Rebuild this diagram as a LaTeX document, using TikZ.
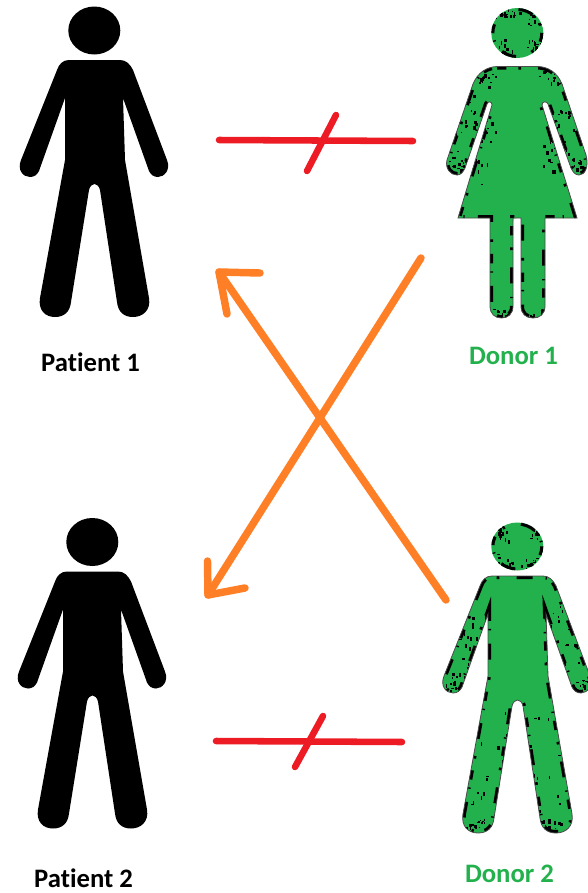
\documentclass[tikz,border=0pt]{standalone}
\usepackage{fontspec}
\setmainfont[Ligatures=CommonOff]{Carlito}
\definecolor{rd}{HTML}{ED1C24}
\definecolor{og}{HTML}{FF7F27}
\definecolor{gr}{HTML}{22B14C}
\newcommand{\manpath}{
 (57,70) .. controls (59,64) and (63,60) .. (69,60) -- (120,60)
 .. controls (126,60) and (130,64) .. (133,70)
 -- (167,160) .. controls (171,170) and (164,177) .. (158,177)
 .. controls (154,177) and (151,175) .. (149,171)
 -- (123,98) -- (125,160) -- (149,298)
 .. controls (151,310) and (143,317) .. (133,317)
 .. controls (124,317) and (118,312) .. (117,302)
 -- (100,190) .. controls (98,182) and (91,182) .. (89,190)
 -- (71,302) .. controls (70,312) and (64,317) .. (55,317)
 .. controls (45,317) and (38,310) .. (40,298)
 -- (65,160) -- (65,98) -- (39,171)
 .. controls (37,175) and (34,177) .. (30,177)
 .. controls (23,177) and (17,170) .. (21,160)
 -- cycle}
\newcommand{\womanpath}{
 (497,66.5) -- (538,66.5) .. controls (548,67) and (557,72) .. (562,84)
 -- (586,155) .. controls (589,167) and (585,175) .. (579,175)
 .. controls (575,175) and (573,172) .. (571,168)
 -- (548,104) .. controls (547,101) and (542,101) .. (542,105)
 -- (577,218) -- (545,218) -- (545,306)
 .. controls (545,314) and (540,318) .. (533,318)
 .. controls (526,318) and (521,314) .. (521,306)
 -- (521,218) -- (513,218) -- (513,306)
 .. controls (513,314) and (508,318) .. (501.5,318)
 .. controls (495,318) and (490,314) .. (490,306)
 -- (490,218) -- (458,218) -- (492,105)
 .. controls (492,101) and (488,101) .. (487,104)
 -- (465,168) .. controls (463,172) and (461,175) .. (457,175)
 .. controls (450,175) and (445,168) .. (447,160)
 -- (473,84) .. controls (478,72) and (487,67) .. (497,66.5) -- cycle}
% black flecks scattered along a list of edge segments (clipped by the caller)
\newcommand{\flecks}[1]{%
 \foreach \ax/\ay/\bx/\by in {#1}{%
  \foreach \k in {1,...,16}{%
   \pgfmathsetmacro{\fx}{\ax+rnd*(\bx-\ax)+rand*5}%
   \pgfmathsetmacro{\fy}{\ay+rnd*(\by-\ay)+rand*5}%
   \pgfmathsetmacro{\fw}{0.8+rnd*2.4}%
   \pgfmathsetmacro{\fh}{0.8+rnd*3.2}%
   \fill[black] (\fx,\fy) rectangle ++(\fw,\fh);%
  }%
 }%
}
\tikzset{
 x=0.75pt,y=-0.75pt,
 lbl/.style={font=\bfseries\fontsize{20}{22}\selectfont,inner sep=0pt,anchor=center},
 redln/.style={draw=rd,line width=4.9pt,line cap=round},
 orln/.style={draw=og,line width=5.6pt,line cap=round,line join=round},
 speck/.style={draw=black,line width=4.5pt,dash pattern=on 7pt off 9pt on 2pt off 13pt on 12pt off 10pt on 1pt off 6pt},
}
\pgfmathsetseed{7}
\begin{document}
\begin{tikzpicture}
\useasboundingbox (0,0) rectangle (587,893);
% Patient 1
\fill[black] (94.3,30.5) ellipse [x radius=26,y radius=24];
\fill[black] \manpath;
\node[lbl,text=black] (p1) at (90.5,362) {Patient 1};
% Patient 2
\begin{scope}[shift={(-2,511.5)}]
 \fill[black] (94.3,30.5) ellipse [x radius=26,y radius=24];
 \fill[black] \manpath;
\end{scope}
\node[lbl,text=black] (p2) at (83.5,878) {Patient 2};
% Donor 1
\fill[gr] (517.3,33) ellipse [x radius=26,y radius=25];
\begin{scope}
 \clip (517.3,33) ellipse [x radius=26,y radius=25];
 \draw[speck] (517.3,33) ellipse [x radius=26,y radius=25];
 \flecks{497/15/515/9, 530/10/541/28, 495/42/510/55, 530/52/541/40}
\end{scope}
\fill[gr] \womanpath;
\begin{scope}
 \clip \womanpath;
 \draw[speck] \womanpath;
 \flecks{473/84/495/70, 540/70/562/84, 473/84/447/160, 562/84/586/155,
  487/104/465/168, 548/104/571/168, 492/105/470/180, 542/105/565/180,
  447/162/465/174, 571/168/586/160, 492/314/512/314, 522/314/544/314}
\end{scope}
\draw[black!70,line width=0.6pt] \womanpath;
\node[lbl,text=gr] (d1) at (513.5,356) {Donor 1};
% Donor 2
\begin{scope}[shift={(423,516)}]
 \fill[gr] (94.3,30.5) ellipse [x radius=26,y radius=24];
 \begin{scope}
  \clip (94.3,30.5) ellipse [x radius=26,y radius=24];
  \draw[speck] (94.3,30.5) ellipse [x radius=26,y radius=24];
  \flecks{72/20/85/9, 105/9/117/22, 72/40/90/52, 100/52/118/42}
 \end{scope}
 \fill[gr] \manpath;
 \begin{scope}
  \clip \manpath;
  \draw[speck] \manpath;
  \flecks{57/70/21/160, 65/98/39/171, 133/70/167/160, 123/98/149/171,
   65/160/40/298, 89/190/71/302, 100/190/117/302, 125/160/149/298,
   21/160/39/174, 149/171/167/160, 40/305/70/310, 118/310/149/305}
 \end{scope}
 \draw[black!70,line width=0.6pt] \manpath;
\end{scope}
\node[lbl,text=gr] (d2) at (509.5,874) {Donor 2};
% Connectors
\coordinate (a1) at (219,140); \coordinate (b1) at (413,141);
\coordinate (c1) at (336,115); \coordinate (e1) at (307,171);
\draw[redln] (a1) -- (b1);
\draw[redln] (c1) -- (e1);
\coordinate (a2) at (216,741); \coordinate (b2) at (402,742);
\coordinate (c2) at (323,716); \coordinate (e2) at (295,767);
\draw[redln] (a2) -- (b2);
\draw[redln] (c2) -- (e2);
\coordinate (s1) at (446,600); \coordinate (t1) at (219,272);
\coordinate (h1a) at (260,273); \coordinate (h1b) at (227,314);
\draw[orln] (s1) -- (t1);
\draw[orln] (h1a) -- (t1) -- (h1b);
\coordinate (s2) at (421,258); \coordinate (t2) at (208,595);
\coordinate (h2a) at (207.5,561); \coordinate (h2b) at (245,588);
\draw[orln] (s2) -- (t2);
\draw[orln] (h2a) -- (t2) -- (h2b);
\end{tikzpicture}
\end{document}
